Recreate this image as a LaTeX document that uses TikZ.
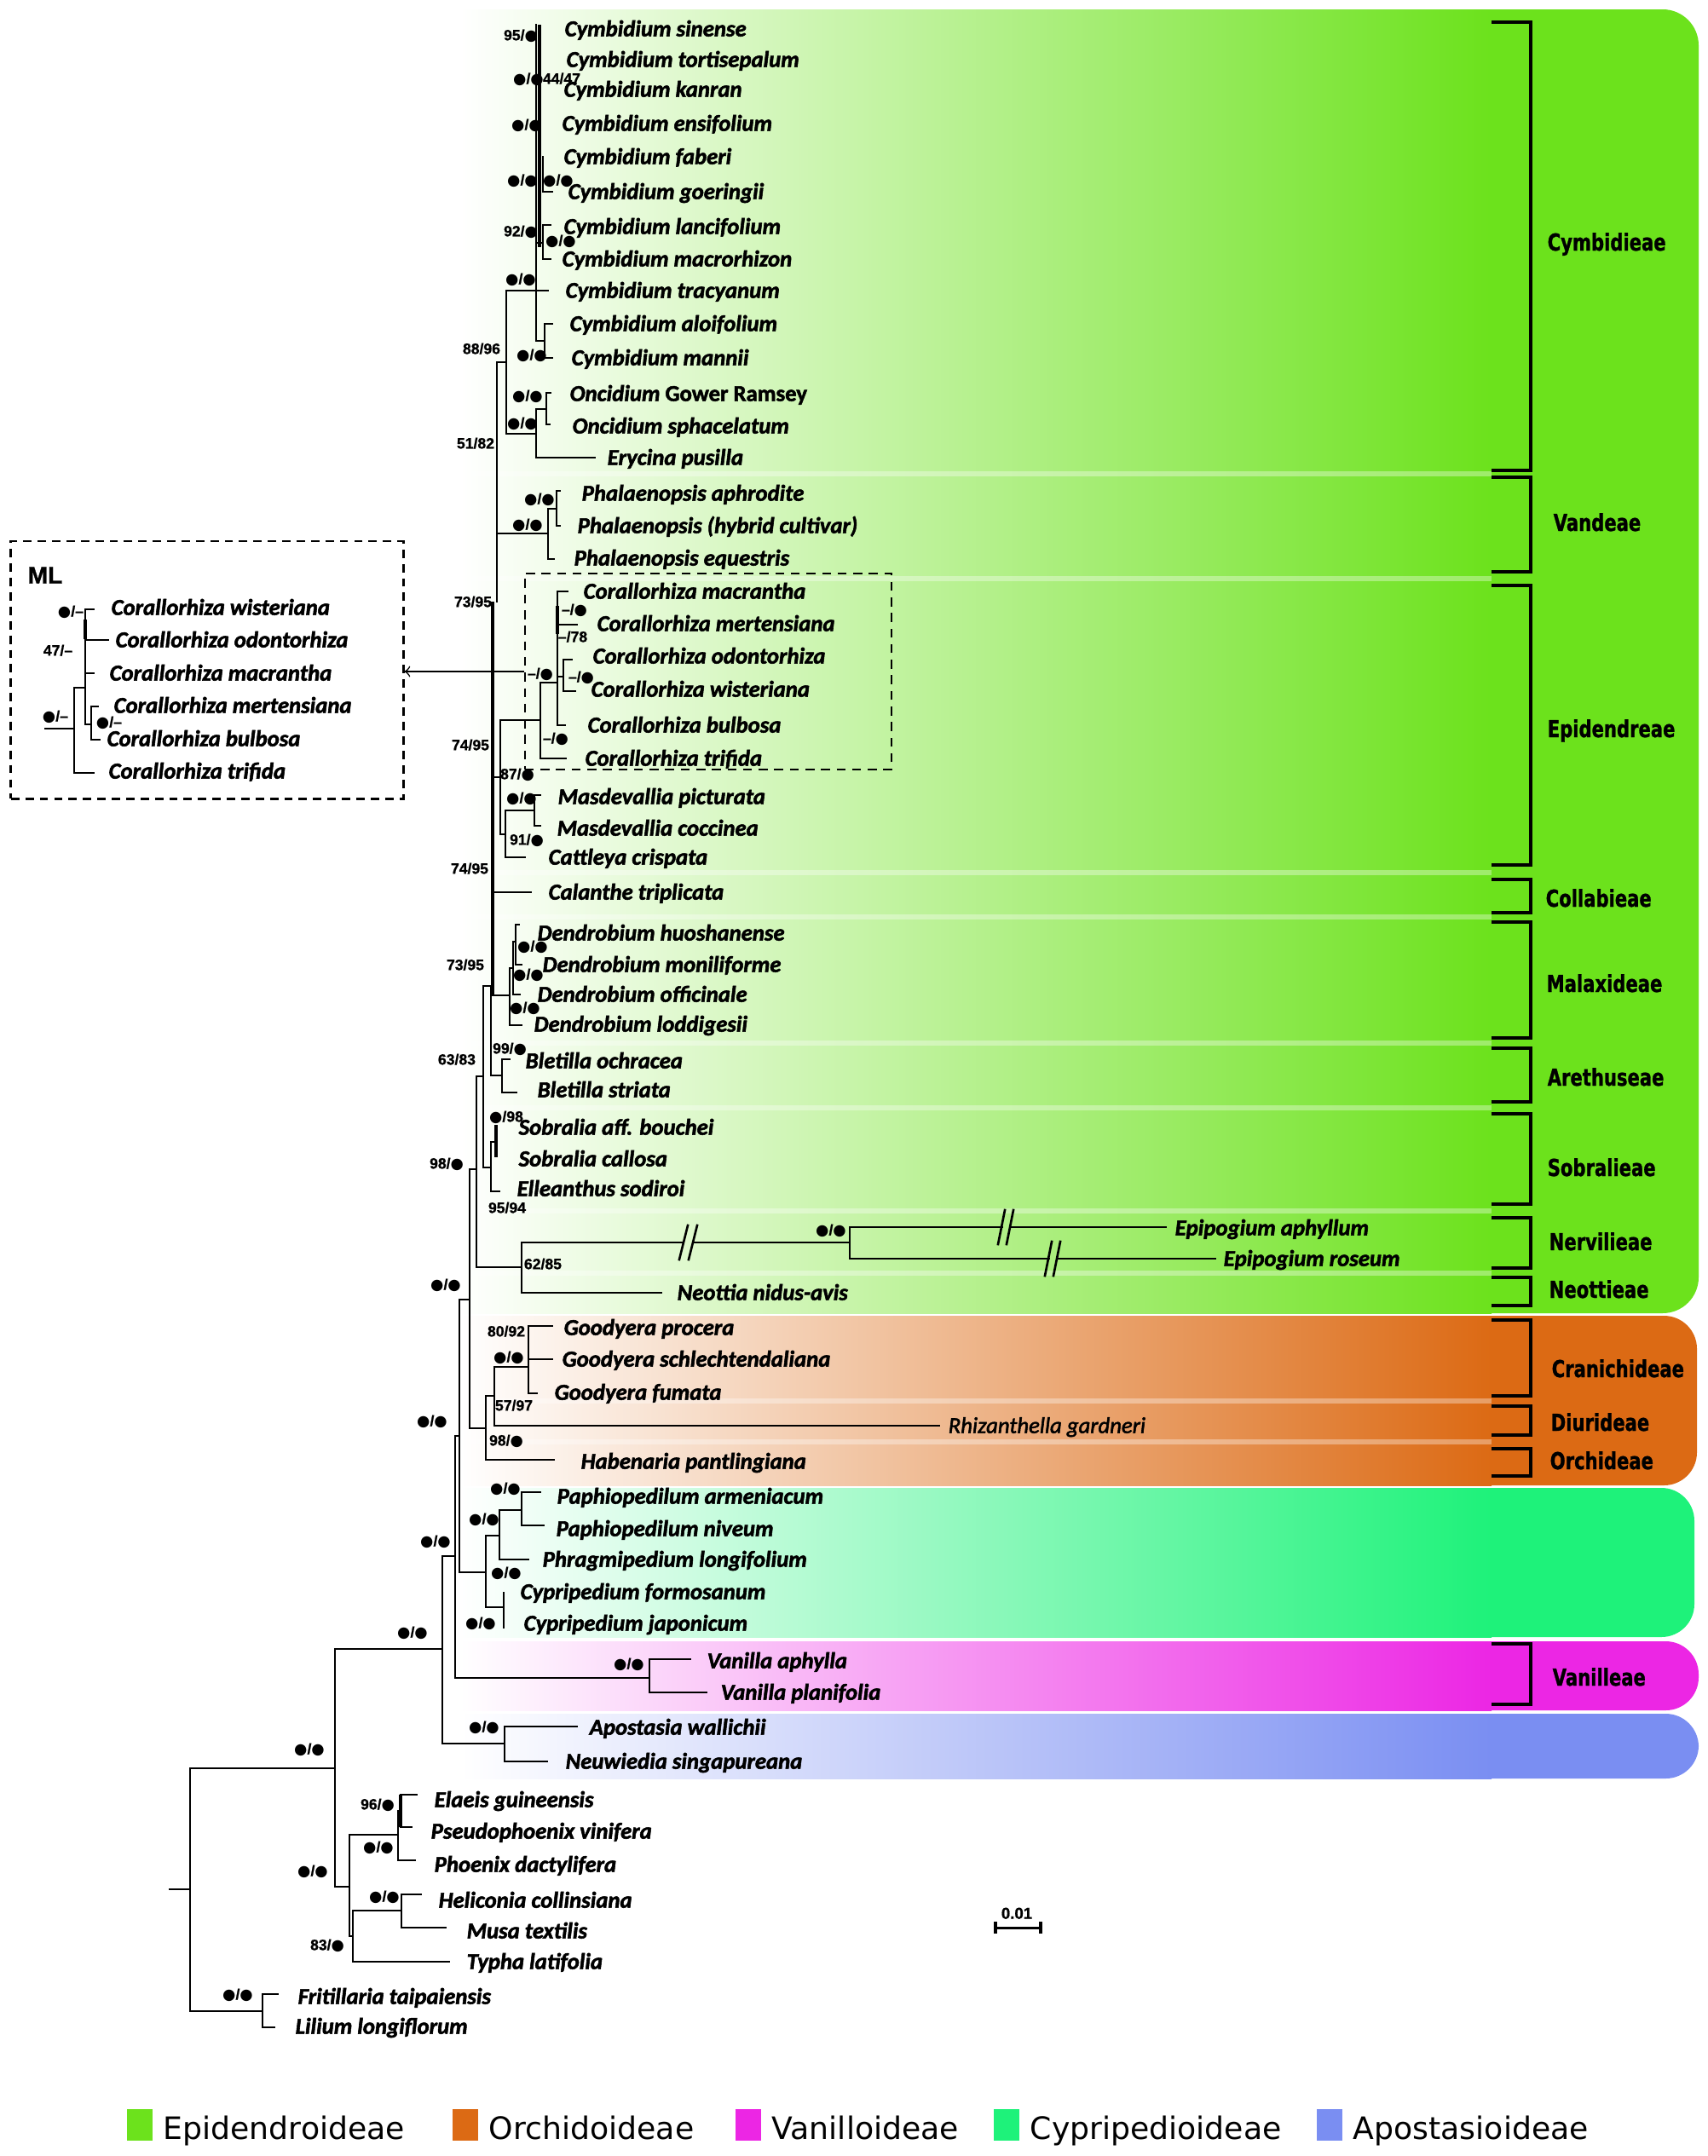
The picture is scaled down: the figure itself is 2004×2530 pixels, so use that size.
\documentclass[tikz,border=0pt]{standalone}
\usepackage{fontspec}
\usepackage{tikz}

\newfontfamily\taxfont{Carlito}[FakeBold=2]
\newfontfamily\supfont{Liberation Sans}[FakeBold=1]
\newfontfamily\tribefont{DejaVu Sans}[FakeStretch=0.77, FakeBold=1]
\newfontfamily\legfont{DejaVu Sans}
\newfontfamily\dotfont{DejaVu Sans}
\newcommand\fdot{{\dotfont ●}}

\definecolor{epigreen}{HTML}{6CE21C}
\definecolor{orcorange}{HTML}{DC6A14}
\definecolor{cypcyan}{HTML}{1EF27A}
\definecolor{vanmagenta}{HTML}{EC26E4}
\definecolor{apoblue}{HTML}{7A8EF2}

\tikzset{
  taxon/.style={anchor=west, inner sep=0pt, text height=4.9pt, text depth=0pt,
    font=\taxfont\bfseries\itshape\fontsize{7.6}{9}\selectfont},
  supp/.style={inner sep=0pt, text height=3.6pt, text depth=0pt,
    font=\supfont\bfseries\fontsize{5}{6}\selectfont},
  tribe/.style={anchor=west, inner sep=0pt, text height=5.7pt, text depth=0pt,
    font=\tribefont\bfseries\fontsize{7.8}{9}\selectfont},
  legend/.style={anchor=west, inner sep=0pt, text height=7.5pt, text depth=0pt,
    font=\legfont\fontsize{10.3}{12}\selectfont},
  branch/.style={line width=0.75pt, line cap=rect},
  fat/.style={line width=1.3pt},
  bracket/.style={line width=0.9pt},
  dashbox/.style={draw, line width=0.55pt, dash pattern=on 3pt off 2.2pt, inner sep=0pt},
  mlframe/.style={draw, line width=0.8pt, dash pattern=on 2.8pt off 2pt, inner sep=0pt}
}

\begin{document}
\begin{tikzpicture}[x=0.01cm, y=-0.01cm]

\useasboundingbox (0,0) rectangle (2004,2530);
\fill[white] (0,0) rectangle (2004,2530);

% coloured bands of the subfamilies
\fill[epigreen, rounded corners=12pt] (1700,11) rectangle (1993,1541);
\shade[left color=white, right color=epigreen] (540,11) rectangle (1750,1541);
\fill[orcorange, rounded corners=11pt] (1700,1544) rectangle (1991,1743);
\shade[left color=white, right color=orcorange] (540,1544) rectangle (1750,1743);
\fill[cypcyan, rounded corners=11pt] (1700,1746) rectangle (1988,1921);
\shade[left color=white, right color=cypcyan] (540,1746) rectangle (1750,1921);
\fill[vanmagenta, rounded corners=11pt] (1700,1926) rectangle (1993,2007);
\shade[left color=white, right color=vanmagenta] (540,1926) rectangle (1750,2007);
\fill[apoblue, rounded corners=11pt] (1700,2011) rectangle (1993,2087);
\shade[left color=white, right color=apoblue] (540,2011) rectangle (1750,2087);
% light gaps between the tribes
\foreach \y in {556,679,1024,1076,1224,1300,1421,1494,1644,1692}
  \fill[white, opacity=0.35] (540,\y-3) rectangle (1750,\y+3);

%% tree
% Cymbidieae
\draw[branch] (584,425) -- (594,425);
\draw[branch] (594,341) -- (643,341);
\draw[branch] (594,341) -- (594,509) -- (629,509);
\draw[branch] (629,29) -- (629,400) -- (639,400);
\draw[fat] (633,29) -- (633,290);
\draw[branch] (648,225) -- (637,225) -- (637,184);
\draw[branch] (629,285) -- (637,285);
\draw[branch] (646,264) -- (637,264) -- (637,304) -- (646,304);
\draw[branch] (648,380) -- (639,380) -- (639,420) -- (648,420);
\draw[branch] (629,480) -- (629,537) -- (698,537);
\draw[branch] (629,480) -- (641,480);
\draw[branch] (646,461) -- (641,461) -- (641,498) -- (645,498);

% Vandeae
\draw[branch] (583,425) -- (583,706);
\draw[branch] (583,626) -- (643,626);
\draw[branch] (643,597) -- (653,597);
\draw[branch] (643,597) -- (643,656) -- (650,656);
\draw[branch] (657,576) -- (653,576) -- (653,617) -- (657,617);

% backbone
\draw[fat] (578,706) -- (578,1168);

% Epidendreae
\draw[branch] (578,912) -- (587,912);
\draw[branch] (587,845) -- (587,979) -- (593,979);
\draw[branch] (587,845) -- (634,845);
\draw[branch] (654,801) -- (634,801) -- (634,890) -- (664,890);
\draw[branch] (666,694) -- (654,694) -- (654,851) -- (663,851);
\draw[fat] (654,711) -- (654,744);
\draw[branch] (654,733) -- (677,733);
\draw[branch] (654,794) -- (661,794);
\draw[branch] (671,774) -- (661,774) -- (661,811) -- (675,811);
\draw[branch] (593,951) -- (627,951);
\draw[branch] (593,951) -- (593,1006) -- (616,1006);
\draw[branch] (634,933) -- (627,933) -- (627,969) -- (634,969);

% Collabieae
\draw[branch] (578,1047) -- (623,1047);

% Malaxideae
\draw[branch] (576,1168) -- (598,1168);
\draw[branch] (602,1136) -- (598,1136) -- (598,1203) -- (612,1203);
\draw[branch] (605,1105) -- (602,1105) -- (602,1167) -- (610,1167);
\draw[branch] (609,1085) -- (605,1085) -- (605,1132) -- (612,1132);

% Arethuseae
\draw[branch] (567,1157) -- (576,1157) -- (576,1262) -- (589,1262);
\draw[branch] (598,1243) -- (589,1243) -- (589,1282) -- (606,1282);

% Sobralieae
\draw[branch] (559,1263) -- (567,1263);
\draw[branch] (567,1157) -- (567,1370) -- (576,1370);
\draw[branch] (582,1340) -- (576,1340) -- (576,1398) -- (586,1398);
\draw[fat] (582,1320) -- (582,1358);

% Nervilieae and Neottieae
\draw[branch] (551,1372) -- (559,1372);
\draw[branch] (559,1263) -- (559,1487) -- (612,1487);
\draw[branch] (802,1458) -- (612,1458) -- (612,1517) -- (776,1517);
\draw[branch] (813,1458) -- (997,1458);
\draw[branch] (1176,1440) -- (997,1440) -- (997,1477) -- (1231,1477);
\draw[branch] (1186,1440) -- (1368,1440);
\draw[branch] (1241,1477) -- (1426,1477);
% broken branches
\draw[branch] (797,1478) -- (807,1438) (808,1478) -- (818,1438);
\draw[branch] (1171,1460) -- (1179,1420) (1181,1460) -- (1189,1420);
\draw[branch] (1226,1497) -- (1234,1457) (1236,1497) -- (1244,1457);

% Orchidoideae
\draw[branch] (539,1525) -- (551,1525);
\draw[branch] (551,1372) -- (551,1676) -- (570,1676);
\draw[branch] (580,1638) -- (570,1638) -- (570,1713) -- (650,1713);
\draw[branch] (620,1604) -- (580,1604) -- (580,1673) -- (1102,1673);
\draw[branch] (648,1556) -- (620,1556) -- (620,1635) -- (630,1635);
\draw[branch] (620,1595) -- (648,1595);

% Cypripedioideae
\draw[branch] (534,1685) -- (539,1685);
\draw[branch] (539,1525) -- (539,1845) -- (570,1845);
\draw[branch] (586,1802) -- (570,1802) -- (570,1886) -- (591,1886);
\draw[branch] (612,1772) -- (586,1772) -- (586,1830) -- (620,1830);
\draw[branch] (634,1751) -- (612,1751) -- (612,1790) -- (638,1790);
\draw[branch] (591,1869) -- (591,1910);

% Vanilloideae
\draw[branch] (519,1826) -- (534,1826);
\draw[branch] (534,1685) -- (534,1969) -- (762,1969);
\draw[branch] (810,1947) -- (762,1947) -- (762,1986) -- (829,1986);

% Apostasioideae
\draw[branch] (393,1935) -- (519,1935);
\draw[branch] (519,1826) -- (519,2046) -- (592,2046);
\draw[branch] (677,2026) -- (592,2026) -- (592,2067) -- (642,2067);

% other monocots
\draw[branch] (199,2217) -- (223,2217);
\draw[branch] (393,2075) -- (223,2075) -- (223,2360) -- (308,2360);
\draw[branch] (393,1935) -- (393,2214) -- (410,2214);
\draw[branch] (467,2153) -- (410,2153) -- (410,2272) -- (414,2272);
\draw[branch] (470,2125) -- (467,2125) -- (467,2183) -- (487,2183);
\draw[fat] (470,2106) -- (470,2144);
\draw[branch] (489,2106) -- (470,2106) (470,2144) -- (483,2144);
\draw[branch] (471,2242) -- (414,2242) -- (414,2302) -- (527,2302);
\draw[branch] (494,2223) -- (471,2223) -- (471,2262) -- (523,2262);
\draw[branch] (326,2340) -- (308,2340) -- (308,2379) -- (322,2379);

%% taxa
\foreach \nm/\x/\y/\txt in {
  csinense/662/34/Cymbidium sinense,
  ctortisepalum/664/70/Cymbidium tortisepalum,
  ckanran/661/105/Cymbidium kanran,
  censifolium/659/145/Cymbidium ensifolium,
  cfaberi/661/184/Cymbidium faberi,
  cgoeringii/666/225/Cymbidium goeringii,
  clancifolium/661/266/Cymbidium lancifolium,
  cmacrorhizon/659/304/Cymbidium macrorhizon,
  ctracyanum/663/341/Cymbidium tracyanum,
  caloifolium/668/380/Cymbidium aloifolium,
  cmannii/670/420/Cymbidium mannii,
  ogower/668/462/Oncidium {\upshape Gower Ramsey},
  osphacelatum/671/500/Oncidium sphacelatum,
  epusilla/712/537/Erycina pusilla,
  paphrodite/682/579/Phalaenopsis aphrodite,
  phybrid/677/617/Phalaenopsis (hybrid cultivar),
  pequestris/673/655/Phalaenopsis equestris,
  cmacrantha/684/694/Corallorhiza macrantha,
  cmertensiana/700/732/Corallorhiza mertensiana,
  codontorhiza/695/770/Corallorhiza odontorhiza,
  cwisteriana/693/809/Corallorhiza wisteriana,
  cbulbosa/689/851/Corallorhiza bulbosa,
  ctrifida/686/890/Corallorhiza trifida,
  mpicturata/654/935/Masdevallia picturata,
  mcoccinea/653/972/Masdevallia coccinea,
  ccrispata/643/1006/Cattleya crispata,
  ctriplicata/643/1047/Calanthe triplicata,
  dhuoshanense/630/1095/Dendrobium huoshanense,
  dmoniliforme/636/1132/Dendrobium moniliforme,
  dofficinale/630/1167/Dendrobium officinale,
  dloddigesii/626/1202/Dendrobium loddigesii,
  bochracea/616/1245/Bletilla ochracea,
  bstriata/630/1279/Bletilla striata,
  sbouchei/608/1323/Sobralia aff. bouchei,
  scallosa/608/1360/Sobralia callosa,
  esodiroi/606/1395/Elleanthus sodiroi,
  eaphyllum/1378/1441/Epipogium aphyllum,
  eroseum/1435/1477/Epipogium roseum,
  nnidusavis/794/1517/Neottia nidus-avis,
  gprocera/661/1558/Goodyera procera,
  gschlecht/659/1595/Goodyera schlechtendaliana,
  gfumata/650/1634/Goodyera fumata,
  hpantlingiana/681/1715/Habenaria pantlingiana,
  parmeniacum/653/1756/Paphiopedilum armeniacum,
  pniveum/652/1794/Paphiopedilum niveum,
  plongifolium/636/1830/Phragmipedium longifolium,
  cformosanum/610/1868/Cypripedium formosanum,
  cjaponicum/614/1905/Cypripedium japonicum,
  vaphylla/829/1949/Vanilla aphylla,
  vplanifolia/845/1986/Vanilla planifolia,
  awallichii/691/2027/Apostasia wallichii,
  nsingapureana/663/2067/Neuwiedia singapureana,
  eguineensis/509/2112/Elaeis guineensis,
  pvinifera/505/2149/Pseudophoenix vinifera,
  pdactylifera/509/2188/Phoenix dactylifera,
  hcollinsiana/514/2230/Heliconia collinsiana,
  mtextilis/547/2266/Musa textilis,
  tlatifolia/547/2302/Typha latifolia,
  ftaipaiensis/349/2343/Fritillaria taipaiensis,
  llongiflorum/346/2378/Lilium longiflorum}
  \node[taxon] (\nm) at (\x,\y) {\txt};
\node[taxon, font=\taxfont\itshape\fontsize{7.6}{9}\selectfont] (rgardneri) at (1112,1673) {Rhizanthella gardneri};

%% support values
\foreach \x/\y/\a/\b [count=\i] in {
  611/41/95/\fdot, 620/92/\fdot/\fdot, 659/92/44/47, 618/146/\fdot/\fdot,
  613/211/\fdot/\fdot, 655/211/\fdot/\fdot, 611/271/92/\fdot, 658/282/\fdot/\fdot,
  611/327/\fdot/\fdot, 565/409/88/96, 624/416/\fdot/\fdot, 619/464/\fdot/\fdot,
  613/496/\fdot/\fdot, 558/520/51/82, 633/585/\fdot/\fdot, 619/615/\fdot/\fdot,
  555/706/73/95, 674/715/–/\fdot, 672/747/–/78, 634/790/–/\fdot,
  682/794/–/\fdot, 652/866/–/\fdot, 552/874/74/95, 607/908/87/\fdot,
  612/936/\fdot/\fdot, 618/985/91/\fdot, 551/1019/74/95, 625/1110/\fdot/\fdot,
  546/1132/73/95, 620/1143/\fdot/\fdot, 616/1182/\fdot/\fdot, 598/1230/99/\fdot,
  536/1243/63/83, 594/1310/\fdot/98, 524/1365/98/\fdot, 595/1417/95/94,
  975/1443/\fdot/\fdot, 637/1483/62/85, 523/1507/\fdot/\fdot, 594/1562/80/92,
  597/1592/\fdot/\fdot, 603/1649/57/97, 507/1667/\fdot/\fdot, 594/1690/98/\fdot,
  593/1746/\fdot/\fdot, 568/1782/\fdot/\fdot, 511/1808/\fdot/\fdot, 594/1845/\fdot/\fdot,
  564/1904/\fdot/\fdot, 484/1915/\fdot/\fdot, 738/1952/\fdot/\fdot, 568/2026/\fdot/\fdot,
  363/2052/\fdot/\fdot, 443/2117/96/\fdot, 444/2167/\fdot/\fdot, 367/2195/\fdot/\fdot,
  451/2225/\fdot/\fdot, 384/2282/83/\fdot, 279/2340/\fdot/\fdot,
  83/717/\fdot/–, 68/763/47/–, 65/840/\fdot/–, 128/847/\fdot/–}
  \node[supp] (sup\i) at (\x,\y) {\a/\b};

%% Corallorhiza box and the ML inset
\node[dashbox, minimum width=4.30cm, minimum height=2.30cm] (corbox) at (831,788) {};
\node[mlframe, minimum width=4.60cm, minimum height=3.02cm] (mlbox) at (243,786) {};
\draw[->, line width=0.45pt] (corbox.west) -- (mlbox.east |- corbox.west);
\node[anchor=west, inner sep=0pt, font=\supfont\bfseries\fontsize{8}{9}\selectfont] (mltitle) at (32,675) {ML};

\draw[branch] (53,855) -- (87,855);
\draw[branch] (100,807) -- (87,807) -- (87,907) -- (110,907);
\draw[branch] (110,715) -- (100,715) -- (100,850) -- (107,850);
\draw[fat] (100,727) -- (100,750);
\draw[branch] (100,751) -- (127,751);
\draw[branch] (100,790) -- (110,790);
\draw[branch] (115,829) -- (107,829) -- (107,868) -- (117,868);
\foreach \nm/\x/\y/\txt in {
  mlwisteriana/130/713/Corallorhiza wisteriana,
  mlodontorhiza/135/751/Corallorhiza odontorhiza,
  mlmacrantha/128/790/Corallorhiza macrantha,
  mlmertensiana/133/828/Corallorhiza mertensiana,
  mlbulbosa/125/867/Corallorhiza bulbosa,
  mltrifida/127/905/Corallorhiza trifida}
  \node[taxon] (\nm) at (\x,\y) {\txt};

%% tribes
\foreach \nm/\ya/\yb/\yl/\xl in {
  Cymbidieae/26/552/284/1815, Vandeae/560/671/613/1822,
  Epidendreae/687/1015/855/1815, Collabieae/1032/1071/1054/1813,
  Malaxideae/1082/1218/1154/1814, Arethuseae/1230/1293/1264/1815,
  Sobralieae/1307/1413/1370/1815, Nervilieae/1429/1488/1457/1817,
  Neottieae/1499/1532/1513/1817, Cranichideae/1549/1638/1606/1820,
  Diurideae/1650/1684/1669/1819, Orchideae/1700/1732/1714/1818,
  Vanilleae/1929/2000/1968/1821}
{
  \draw[bracket] (1750,\ya) -- (1796,\ya) -- (1796,\yb) -- (1750,\yb);
  \node[tribe] (\nm) at (\xl,\yl) {\nm};
}

% scale bar
\draw[line width=0.85pt] (1168,2262) -- (1221,2262);
\draw[line width=1.2pt] (1168,2255) -- (1168,2269) (1221,2255) -- (1221,2269);
\node[supp, font=\supfont\bfseries\fontsize{5.3}{6}\selectfont, text height=3.8pt] (scalebar) at (1193,2245) {0.01};

%% legend
\foreach \col/\x/\nm in {epigreen/149/Epidendroideae, orcorange/531/Orchidoideae,
    vanmagenta/863/Vanilloideae, cypcyan/1166/Cypripedioideae, apoblue/1545/Apostasioideae}
{
  \fill[\col] (\x,2475) rectangle ++(30,37);
  \node[legend] (leg\nm) at (\x+42,2497) {\nm};
}

\end{tikzpicture}
\end{document}
